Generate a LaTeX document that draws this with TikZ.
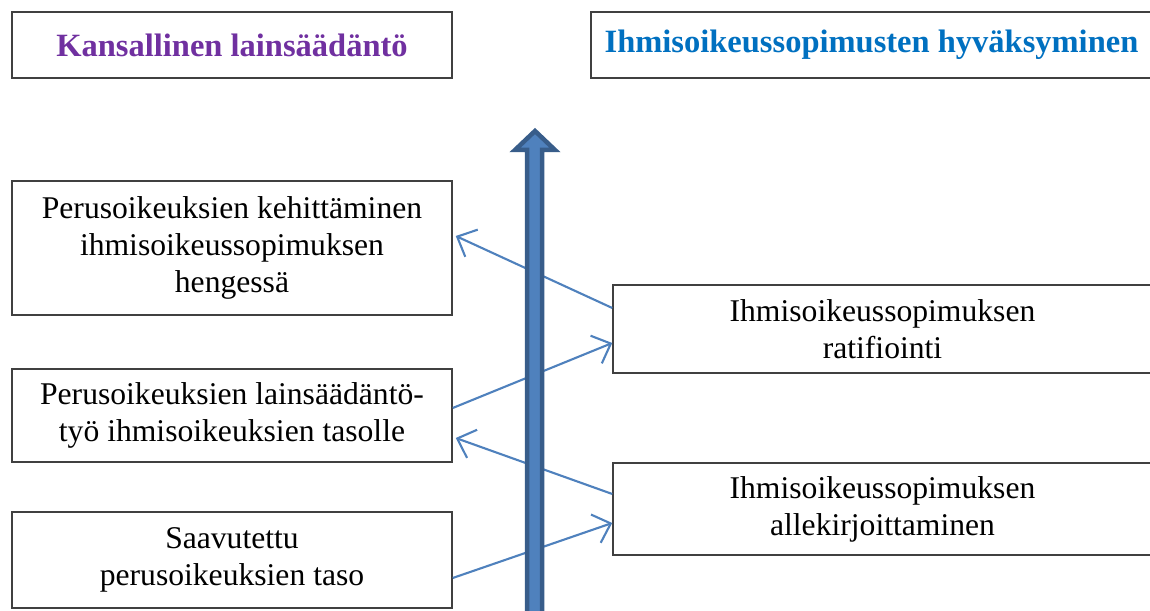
\documentclass[tikz,border=0pt]{standalone}
\usepackage{fontspec}
\setmainfont{Liberation Serif}
\usepackage{tikz}
\usetikzlibrary{arrows.meta,calc}

\definecolor{linkblue}{RGB}{79,129,189}
\definecolor{arrowedge}{RGB}{56,93,138}
\definecolor{lawpurple}{RGB}{112,48,160}
\definecolor{treatyblue}{RGB}{0,112,192}

\tikzset{
	box/.style={draw=black!75, line width=0.9pt, align=center, inner sep=0pt,
		font=\fontsize{18}{21}\selectfont},
	titlebox/.style={box, font=\fontsize{18.5}{21}\selectfont\bfseries},
	link/.style={linkblue, line width=1.2pt, -{Straight Barb[length=9pt,width=17pt]}}
}

\begin{document}
\begin{tikzpicture}[x=0.02cm,y=0.02cm]

	\useasboundingbox (0,0) rectangle (1150,611);

	\node[titlebox, minimum width=8.8cm, minimum height=1.32cm, text=lawpurple] (national) at (232,566) {Kansallinen lainsäädäntö};
	\node[titlebox, minimum width=11.22cm, minimum height=1.32cm, text=treatyblue] (treaties) at (871.5,566) {Ihmisoikeussopimusten hyväksyminen};

	\node[box, minimum width=8.8cm, minimum height=2.68cm] (develop) at (232,363) {Perusoikeuksien kehittäminen\\ihmisoikeussopimuksen\\hengessä};
	\node[box, minimum width=8.8cm, minimum height=1.86cm] (legislate) at (232,195.5) {Perusoikeuksien lainsäädäntö-\\työ ihmisoikeuksien tasolle};
	\node[box, minimum width=8.8cm, minimum height=1.92cm] (level) at (232,51) {Saavutettu\\perusoikeuksien taso};

	\node[box, minimum width=10.78cm, minimum height=1.76cm] (ratify) at (882.5,282) {Ihmisoikeussopimuksen\\ratifiointi};
	\node[box, minimum width=10.78cm, minimum height=1.84cm] (sign) at (882.5,102) {Ihmisoikeussopimuksen\\allekirjoittaminen};

	\draw[link] ($(ratify.west)+(0,21)$) -- ($(develop.east)+(3,12)$);
	\draw[link] ($(legislate.east)+(0,7.5)$) -- ($(ratify.west)+(0,-14)$);
	\draw[link] ($(sign.west)+(0,15)$) -- ($(legislate.east)+(3,-22.5)$);
	\draw[link] ($(level.east)+(0,-18)$) -- ($(sign.west)+(0,-14)$);

	% time arrow
	\draw[fill=linkblue, draw=arrowedge, line width=0.09cm, line join=miter]
		(527,-10) -- (527,461) -- (515,461) -- (535,480) -- (555,461) -- (542,461) -- (542,-10) -- cycle;

\end{tikzpicture}
\end{document}
